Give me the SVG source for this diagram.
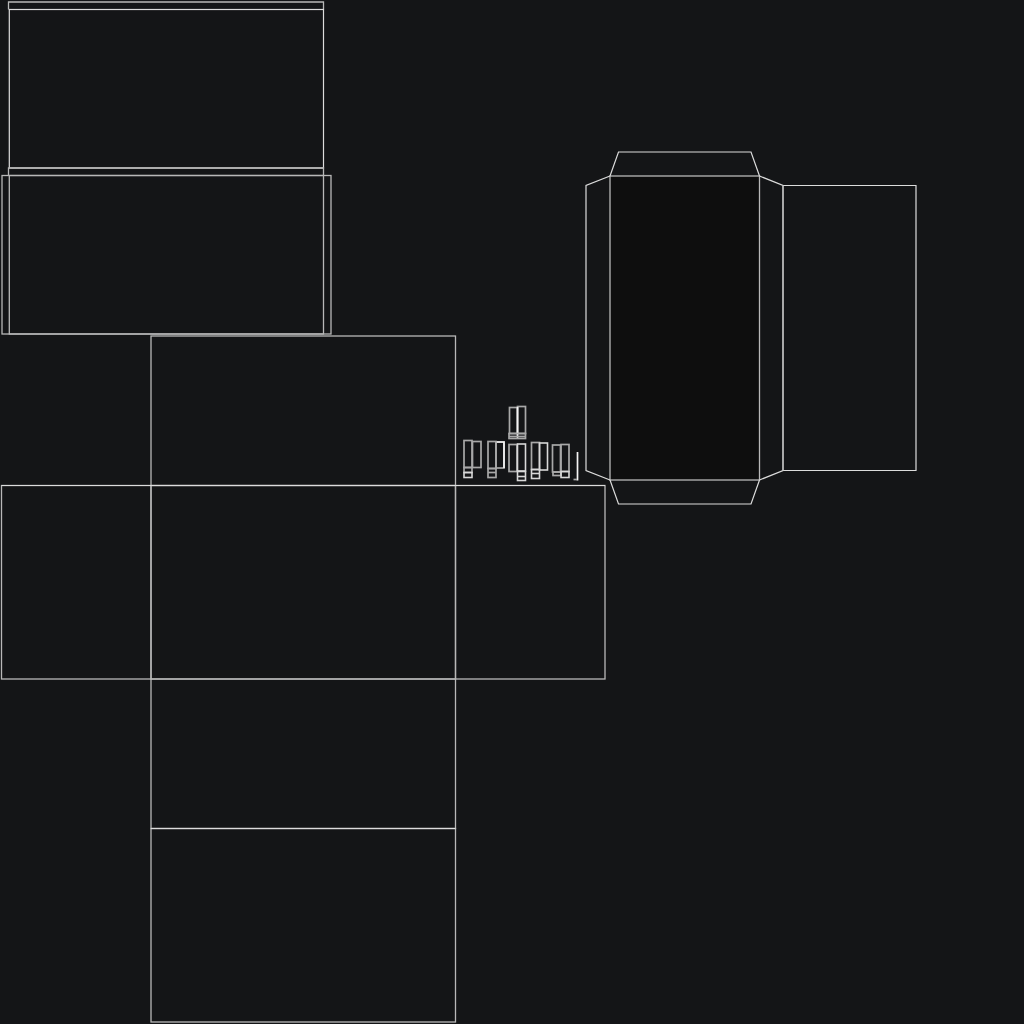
<svg xmlns="http://www.w3.org/2000/svg" width="1024" height="1024" viewBox="0 0 1024 1024">
<style>
.l{fill:none;stroke:#dcdcdc;stroke-width:1.2}
.m{fill:none;stroke:#b8b8b8;stroke-width:1.3}
.s{fill:none;stroke:#a8a8a8;stroke-width:1.7}
.t{fill:none;stroke:#d8d8d8;stroke-width:1.6}
.w{fill:none;stroke:#f4f4f4;stroke-width:1.7}
</style>
<rect width="1024" height="1024" fill="#141517"/>
<g id="lid-net">
<path class="m" d="M8.500 9.500V2H323.500V9.500"/>
<rect class="l" x="9.300" y="9.500" width="314.200" height="158.500"/>
<path class="m" d="M8.500 175.500V168H323.500V175.500"/>
<rect class="m" x="2" y="175.500" width="329" height="158.500"/>
<rect class="m" x="9.300" y="175.500" width="314.200" height="158.500"/>
</g>
<g id="box-net">
<rect class="m" x="151" y="336" width="304.500" height="149.500"/>
<rect class="m" x="1.500" y="485.500" width="149.500" height="193.500"/>
<rect class="m" x="151" y="485.500" width="304.500" height="193.500"/>
<rect class="m" x="455.500" y="485.500" width="149.500" height="193.500"/>
<rect class="m" x="151" y="679" width="304.500" height="149.500"/>
<rect class="m" x="151" y="828.500" width="304.500" height="193.500"/>
<path class="l" d="M1.500 485.500H605M151 828.500H455.500"/>
</g>
<g id="tray-net">
<rect x="610" y="176" width="149" height="304" fill="#0e0e0e"/>
<rect class="m" x="610" y="176" width="149.500" height="304"/>
<path class="l" d="M610 176L618.500 152H751L759.500 176"/>
<path class="l" d="M610 480L618.500 504H751L759.500 480"/>
<path class="l" d="M610 176L586 185.500V470.500L610 480"/>
<path class="l" d="M759.500 176L783 185.500V470.500L759.500 480"/>
<path class="l" d="M783 185.500H916V470.500H783"/>
<path class="m" d="M783 185.500V470.500"/>
</g>
<g id="small-parts">
<g id="part-top">
<rect class="s" x="509.500" y="407.500" width="8" height="26"/><rect class="s" x="517.500" y="406.500" width="8" height="27"/>
<path class="w" d="M517.500 407V439"/>
<rect class="s" x="509" y="433.500" width="16.500" height="5"/><path class="s" d="M509 436.500H525.500"/>
</g>
<g id="part-1">
<rect class="s" x="464" y="440.500" width="8" height="27"/><rect class="s" x="472.500" y="441.500" width="8.500" height="26"/>
<rect class="s" x="464" y="467.500" width="8" height="5"/><rect class="t" x="464" y="472.500" width="8" height="5"/>
</g>
<g id="part-2">
<rect class="s" x="496" y="442" width="8" height="26"/>
<path class="w" d="M496 442H504V468"/>
<rect class="s" x="488" y="441.500" width="8" height="27"/>
<rect class="s" x="488" y="468.500" width="8" height="9"/><path class="s" d="M488 472.500H496"/>
</g>
<g id="part-3">
<rect class="s" x="509" y="444.500" width="8" height="27"/><rect class="t" x="517.500" y="444" width="8" height="27"/>
<rect class="t" x="517.500" y="471.500" width="8" height="9"/><path class="t" d="M517.500 476.500H525.500"/>
</g>
<g id="part-4">
<rect class="s" x="531.500" y="442.500" width="8" height="27"/><rect class="t" x="539.500" y="443" width="8" height="27"/>
<rect class="t" x="531.500" y="469.500" width="8" height="9"/><path class="t" d="M531.500 473.500H539.500"/>
</g>
<g id="part-5">
<rect class="s" x="552.500" y="445" width="8" height="27"/><rect class="s" x="561" y="444.500" width="8" height="27"/>
<rect class="s" x="553" y="472" width="8" height="3.500"/><rect class="t" x="561" y="471.500" width="8" height="6"/>
</g>
<path class="w" d="M577.500 452V480.500"/>
<path class="s" d="M573.500 479.500H577"/>
</g>
</svg>
